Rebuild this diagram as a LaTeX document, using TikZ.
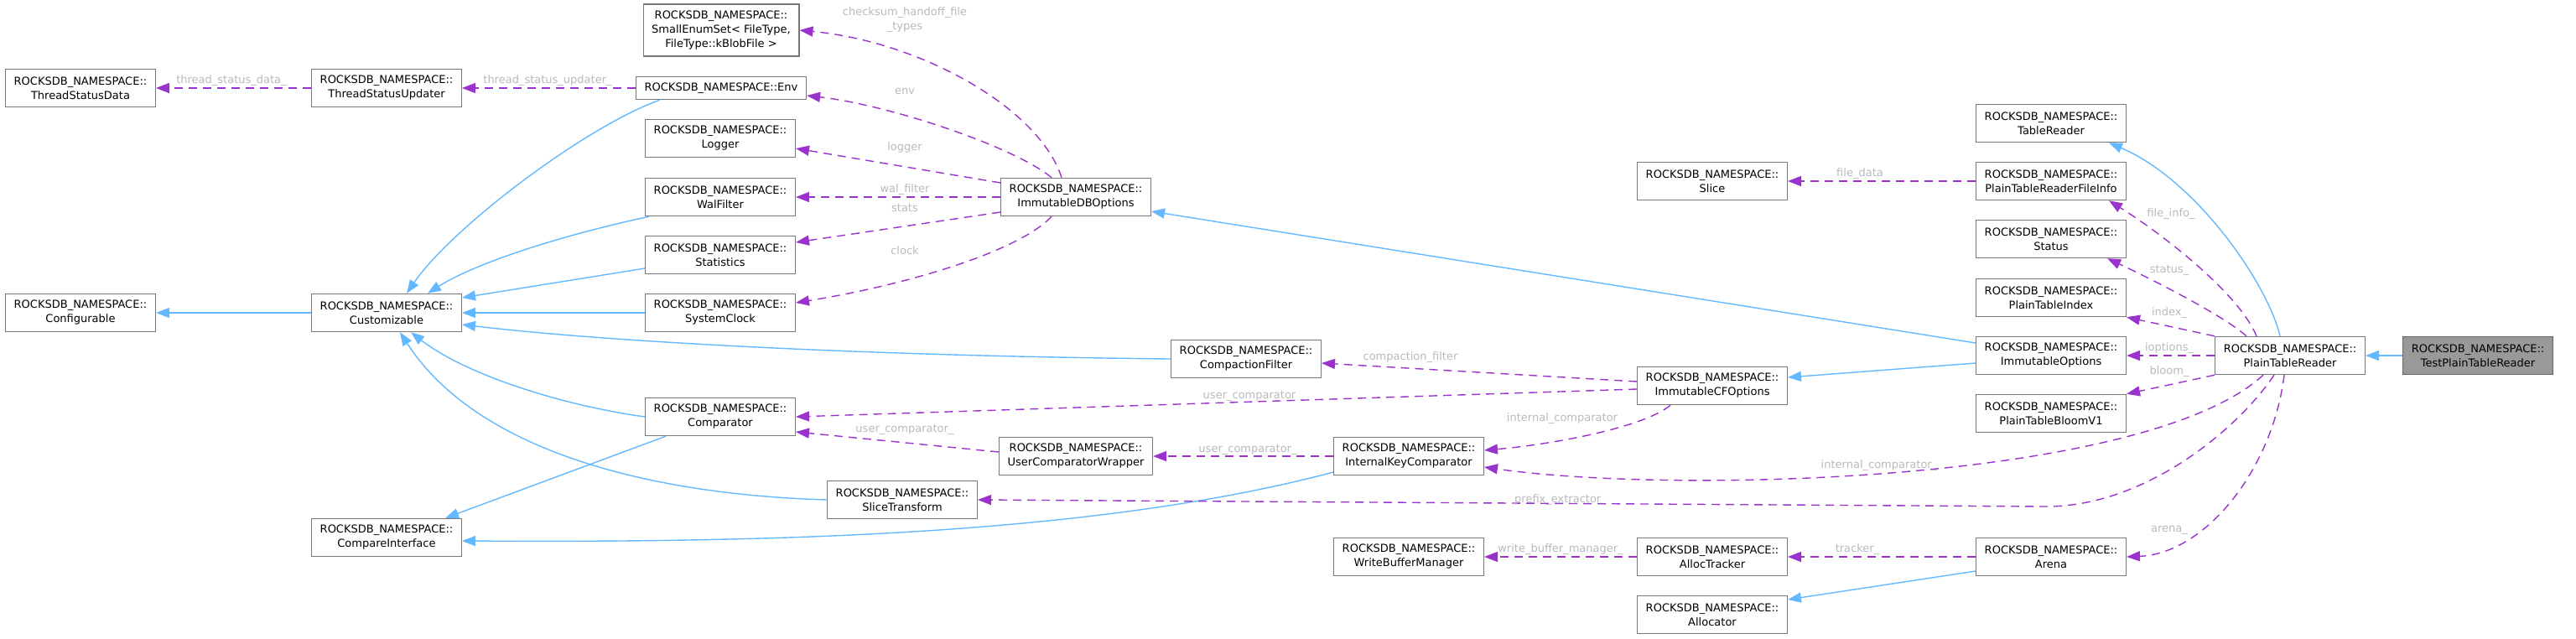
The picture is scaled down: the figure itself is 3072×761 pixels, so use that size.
\documentclass[tikz,border=0pt]{standalone}
\usepackage{fontspec}
\setmainfont{DejaVu Sans}
\usetikzlibrary{arrows.meta}
\definecolor{inhblue}{RGB}{99,184,255}
\definecolor{usepurple}{RGB}{154,50,205}
\definecolor{lblgray}{RGB}{185,185,185}
\definecolor{boxgray}{RGB}{120,120,120}
\definecolor{rootgray}{RGB}{153,153,153}
\newcommand{\rdbns}{ROCKSDB\_NAMESPACE::}
\tikzset{
  cls/.style={draw=boxgray, line width=0.7pt, fill=white, align=center, inner xsep=5pt, inner ysep=2pt, minimum height=22.5pt},
  cur/.style={cls, fill=rootgray, draw=black!60},
  inh/.style={-{Triangle[length=8pt,width=6pt]}, line width=0.7pt, inhblue},
  mem/.style={-{Triangle[length=8pt,width=6pt]}, line width=0.7pt, usepurple, dash pattern=on 5pt off 3.5pt},
  lbl/.style={text=lblgray, align=center, inner sep=0pt, font=\fontsize{6.5}{8.5}\selectfont},
}
\begin{document}
\begin{tikzpicture}[x=0.5pt,y=-0.5pt,font=\fontsize{6.5}{8.5}\selectfont]
  \useasboundingbox (0,0) rectangle (3072,761);
  % classes, column by column
  \node[cls] (tsd) at (96,105) {\rdbns\\ThreadStatusData};
  \node[cls] (cfg) at (96,373) {\rdbns\\Configurable};
  \node[cls] (tsu) at (461,105) {\rdbns\\ThreadStatusUpdater};
  \node[cls] (cust) at (461,373) {\rdbns\\Customizable};
  \node[cls] (cmpi) at (461,641) {\rdbns\\CompareInterface};
  \node[cls, minimum height=31pt] (ses) at (860,36) {\rdbns\\SmallEnumSet< FileType,\\FileType::kBlobFile >};
  \node[cls, minimum height=13.5pt] (env) at (860,105) {\rdbns Env};
  \node[cls] (logr) at (859,165) {\rdbns\\Logger};
  \node[cls] (walf) at (859,235) {\rdbns\\WalFilter};
  \node[cls] (stats) at (859,304) {\rdbns\\Statistics};
  \node[cls] (sclk) at (859,373) {\rdbns\\SystemClock};
  \node[cls] (cmp) at (859,497) {\rdbns\\Comparator};
  \node[cls] (slt) at (1076,596) {\rdbns\\SliceTransform};
  \node[cls] (idbo) at (1283,235) {\rdbns\\ImmutableDBOptions};
  \node[cls] (ucw) at (1283,544) {\rdbns\\UserComparatorWrapper};
  \node[cls] (cf) at (1486,428) {\rdbns\\CompactionFilter};
  \node[cls] (ikc) at (1680,544) {\rdbns\\InternalKeyComparator};
  \node[cls] (wbm) at (1680,664) {\rdbns\\WriteBufferManager};
  \node[cls] (slice) at (2042,216) {\rdbns\\Slice};
  \node[cls] (icfo) at (2042,460) {\rdbns\\ImmutableCFOptions};
  \node[cls] (atr) at (2042,664) {\rdbns\\AllocTracker};
  \node[cls] (alloc) at (2042,733) {\rdbns\\Allocator};
  \node[cls] (trd) at (2446,147) {\rdbns\\TableReader};
  \node[cls] (fi) at (2446,216) {\rdbns\\PlainTableReaderFileInfo};
  \node[cls] (status) at (2446,285) {\rdbns\\Status};
  \node[cls] (pti) at (2446,355) {\rdbns\\PlainTableIndex};
  \node[cls] (iopt) at (2446,424) {\rdbns\\ImmutableOptions};
  \node[cls] (bloom) at (2446,493) {\rdbns\\PlainTableBloomV1};
  \node[cls] (arena) at (2446,664) {\rdbns\\Arena};
  \node[cls] (ptr) at (2731,424) {\rdbns\\PlainTableReader};
  \node[cur] (tptr) at (2955,424) {\rdbns\\TestPlainTableReader};
  % inheritance
  \draw[inh] (cust.west) -- (cfg.east);
  \draw[inh] ([xshift=14.5pt]env.south west) .. controls (700,150) and (540,270) .. ([xshift=12pt]cust.north);
  \draw[inh] ([xshift=2.5pt]walf.south west) .. controls (650,285) and (560,318) .. ([xshift=24.5pt]cust.north);
  \draw[inh] ([yshift=-8pt]stats.west) -- ([yshift=9pt]cust.east);
  \draw[inh] (sclk.west) -- (cust.east);
  \draw[inh] (cf.west) .. controls (1000,424) and (700,405) .. ([yshift=-7pt]cust.east);
  \draw[inh] (cmp.west) .. controls (680,485) and (560,450) .. ([xshift=14.5pt]cust.south);
  \draw[inh] (slt.west) .. controls (780,590) and (570,540) .. ([xshift=8pt]cust.south);
  \draw[inh] ([xshift=-32.5pt]cmp.south) -- ([xshift=35pt]cmpi.north);
  \draw[inh] ([yshift=-9.5pt]ikc.west) .. controls (1300,640) and (900,647) .. ([yshift=-2pt]cmpi.east);
  \draw[inh] ([yshift=7.5pt]iopt.west) -- ([yshift=-8.5pt]idbo.east);
  \draw[inh] ([yshift=-4.5pt]iopt.west) -- ([yshift=5pt]icfo.east);
  \draw[inh] ([xshift=-6pt]ptr.north) .. controls (2705,340) and (2620,215) .. ([xshift=34.5pt]trd.south);
  \draw[inh] (tptr.west) -- (ptr.east);
  \draw[inh] ([yshift=-8.5pt]arena.west) -- ([yshift=9pt]alloc.east);
  % members
  \draw[mem] (tsu.west) -- (tsd.east);
  \draw[mem] (env.west) -- (tsu.east);
  \draw[mem] ([xshift=-8.5pt]idbo.north) .. controls (1240,130) and (1100,50) .. (ses.east);
  \draw[mem] ([xshift=-14.5pt]idbo.north) .. controls (1210,175) and (1060,125) .. ([yshift=-4.5pt]env.east);
  \draw[mem] ([yshift=8.5pt]idbo.west) -- ([yshift=-6pt]logr.east);
  \draw[mem] (idbo.west) -- (walf.east);
  \draw[mem] ([yshift=-9pt]idbo.west) -- ([yshift=7.5pt]stats.east);
  \draw[mem] ([xshift=-14.5pt]idbo.south) .. controls (1215,300) and (1080,340) .. ([yshift=6pt]sclk.east);
  \draw[mem] ([yshift=2.5pt]icfo.west) -- ([yshift=-2.5pt]cf.east);
  \draw[mem] ([yshift=-2pt]icfo.west) -- (cmp.east);
  \draw[mem] ([yshift=2.5pt]ucw.west) -- ([yshift=-9pt]cmp.east);
  \draw[mem] (ikc.west) -- (ucw.east);
  \draw[mem] ([xshift=-25pt]icfo.south) .. controls (1960,510) and (1850,530) .. ([yshift=3.5pt]ikc.east);
  \draw[mem] ([xshift=-16pt]ptr.south) .. controls (2560,575) and (2000,590) .. ([yshift=-6.5pt]ikc.east);
  \draw[mem] ([xshift=-9.5pt]ptr.south) .. controls (2670,510) and (2560,604) .. (2440,604) -- (slt.east);
  \draw[mem] ([xshift=-3.5pt]ptr.south) .. controls (2710,560) and (2630,660) .. (arena.east);
  \draw[mem] (atr.west) -- (wbm.east);
  \draw[mem] (arena.west) -- (atr.east);
  \draw[mem] (fi.west) -- (slice.east);
  \draw[mem] ([xshift=-20pt]ptr.north) .. controls (2670,350) and (2580,280) .. ([xshift=34.5pt]fi.south);
  \draw[mem] ([xshift=-26pt]ptr.north) .. controls (2650,375) and (2560,330) .. ([xshift=33.5pt]status.south);
  \draw[mem] (ptr.north west) -- (pti.south east);
  \draw[mem] (ptr.west) -- (iopt.east);
  \draw[mem] (ptr.south west) -- (bloom.north east);
  % member names
  \node[lbl] (l-tsd) at (276,96) {thread\_status\_data\_};
  \node[lbl] (l-tsu) at (653,96) {thread\_status\_updater\_};
  \node[lbl] (l-ses) at (1079,24) {checksum\_handoff\_file\\\_types};
  \node[lbl] (l-env) at (1079,109) {env};
  \node[lbl] (l-logr) at (1079,176) {logger};
  \node[lbl] (l-walf) at (1079,226) {wal\_filter};
  \node[lbl] (l-stats) at (1079,248) {stats};
  \node[lbl] (l-sclk) at (1079,299) {clock};
  \node[lbl] (l-cf) at (1682,426) {compaction\_filter};
  \node[lbl] (l-cmp1) at (1490,472) {user\_comparator};
  \node[lbl] (l-cmp2) at (1079,512) {user\_comparator\_};
  \node[lbl] (l-ucw) at (1488,536) {user\_comparator\_};
  \node[lbl] (l-ikc1) at (1863,499) {internal\_comparator};
  \node[lbl] (l-ikc2) at (2241,555) {internal\_comparator\_};
  \node[lbl] (l-slt) at (1861,596) {prefix\_extractor\_};
  \node[lbl] (l-wbm) at (1861,655) {write\_buffer\_manager\_};
  \node[lbl] (l-atr) at (2215,655) {tracker\_};
  \node[lbl] (l-arena) at (2587,632) {arena\_};
  \node[lbl] (l-slice) at (2218,207) {file\_data};
  \node[lbl] (l-fi) at (2589,255) {file\_info\_};
  \node[lbl] (l-status) at (2587,322) {status\_};
  \node[lbl] (l-pti) at (2587,373) {index\_};
  \node[lbl] (l-iopt) at (2587,415) {ioptions\_};
  \node[lbl] (l-bloom) at (2587,443) {bloom\_};
\end{tikzpicture}
\end{document}
